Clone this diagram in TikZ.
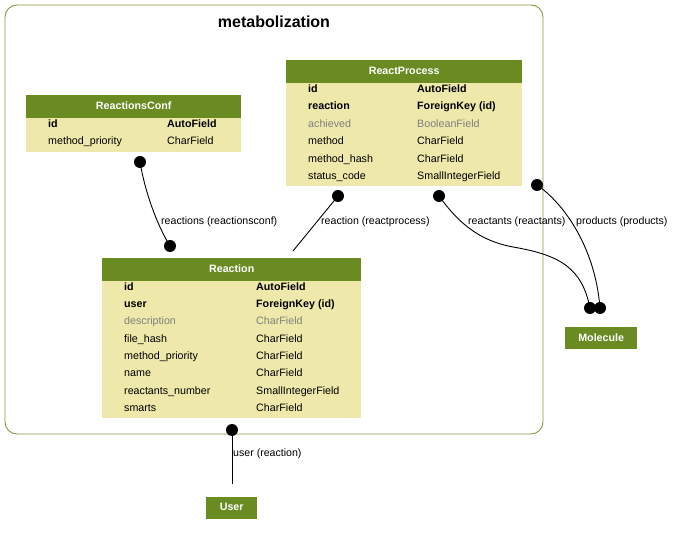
\documentclass[tikz,border=0pt]{standalone}
\usepackage{fontspec}
\setmainfont{Liberation Sans}
\definecolor{hdr}{HTML}{698B22}
\definecolor{bodyc}{HTML}{EEE8AA}
\definecolor{mute}{HTML}{7F7F7F}
\begin{document}
\begin{tikzpicture}[x=1pt,y=-1pt,
  font=\fontsize{10.7}{12}\selectfont,
  hdrbox/.style={fill=hdr, text=white, font=\fontsize{10.7}{12}\selectfont\bfseries, anchor=north west, inner sep=0pt, draw=none},
  bodybox/.style={fill=bodyc, anchor=north west, inner sep=0pt, draw=none},
  fld/.style={anchor=base west, inner sep=0pt},
  key/.style={fld, font=\fontsize{10.7}{12}\selectfont\bfseries},
  muted/.style={fld, text=mute},
  elabel/.style={anchor=base west, inner sep=0pt, font=\fontsize{10.6}{12}\selectfont},
  conn/.style={line width=0.9pt, black},
  dot/.style={fill=black}
]
\useasboundingbox (0,0) rectangle (673,537);
\fill[white] (0,0) rectangle (673,537);

% cluster
\draw[hdr!85, line width=0.9pt, rounded corners=12pt] (5,5) rectangle (543,434);
\node[font=\fontsize{16}{18}\selectfont\bfseries, inner sep=0pt] (title) at (274,22) {metabolization};

% ReactionsConf
\node[hdrbox, minimum width=215pt, minimum height=23pt] (rch) at (26,95) {\raisebox{2pt}{ReactionsConf}};
\node[bodybox, minimum width=215pt, minimum height=34pt] (rcb) at (26,118) {};
\node[key] (rc1a) at (48,128) {id};
\node[key] (rc1b) at (167,128) {AutoField};
\node[fld] (rc2a) at (48,145) {method\_priority};
\node[fld] (rc2b) at (167,145) {CharField};

% ReactProcess
\node[hdrbox, minimum width=236pt, minimum height=23pt] (rph) at (286,60) {\raisebox{2pt}{ReactProcess}};
\node[bodybox, minimum width=236pt, minimum height=103pt] (rpb) at (286,83) {};
\node[key] (rp1a) at (308,93) {id};
\node[key] (rp1b) at (417,93) {AutoField};
\node[key] (rp2a) at (308,110) {reaction};
\node[key] (rp2b) at (417,110) {ForeignKey (id)};
\node[muted] (rp3a) at (308,128) {achieved};
\node[muted] (rp3b) at (417,128) {BooleanField};
\node[fld] (rp4a) at (308,145) {method};
\node[fld] (rp4b) at (417,145) {CharField};
\node[fld] (rp5a) at (308,163) {method\_hash};
\node[fld] (rp5b) at (417,163) {CharField};
\node[fld] (rp6a) at (308,180) {status\_code};
\node[fld] (rp6b) at (417,180) {SmallIntegerField};

% Reaction
\node[hdrbox, minimum width=259pt, minimum height=23pt] (reh) at (102,258) {\raisebox{2pt}{Reaction}};
\node[bodybox, minimum width=259pt, minimum height=137pt] (reb) at (102,281) {};
\node[key] (re1a) at (124,291) {id};
\node[key] (re1b) at (256,291) {AutoField};
\node[key] (re2a) at (124,308) {user};
\node[key] (re2b) at (256,308) {ForeignKey (id)};
\node[muted] (re3a) at (124,325) {description};
\node[muted] (re3b) at (256,325) {CharField};
\node[fld] (re4a) at (124,343) {file\_hash};
\node[fld] (re4b) at (256,343) {CharField};
\node[fld] (re5a) at (124,360) {method\_priority};
\node[fld] (re5b) at (256,360) {CharField};
\node[fld] (re6a) at (124,377) {name};
\node[fld] (re6b) at (256,377) {CharField};
\node[fld] (re7a) at (124,395) {reactants\_number};
\node[fld] (re7b) at (256,395) {SmallIntegerField};
\node[fld] (re8a) at (124,412) {smarts};
\node[fld] (re8b) at (256,412) {CharField};

% Molecule, User
\node[hdrbox, minimum width=72pt, minimum height=22pt] (mol) at (565,327) {\raisebox{2pt}{Molecule}};
\node[hdrbox, minimum width=51pt, minimum height=22pt] (usr) at (206,497) {\raisebox{2pt}{User}};

% connector end points
\coordinate (c1s) at (140,162);
\coordinate (c1e) at (170,246);
\coordinate (c2s) at (338,196);
\coordinate (c2e) at (293,251);
\coordinate (c3s) at (439,196);
\coordinate (c3m) at (513,247);
\coordinate (c3e) at (590,308);
\coordinate (c4s) at (537,185);
\coordinate (c4e) at (600,308);
\coordinate (c5s) at (232,430);
\coordinate (c5e) at (232,484);

\draw[conn] (c1s) .. controls (145,192) and (157,225) .. (c1e);
\draw[conn] (c2s) -- (c2e);
\draw[conn] (c3s) .. controls (455,218) and (475,240) .. (c3m) .. controls (560,255) and (582,268) .. (c3e);
\draw[conn] (c4s) .. controls (562,202) and (595,245) .. (c4e);
\draw[conn] (c5s) -- (c5e);

\foreach \p in {c1s,c1e,c2s,c3s,c3e,c4s,c4e,c5s} \fill[dot] (\p) circle (6);

% labels
\node[elabel] (l1) at (161,225) {reactions (reactionsconf)};
\node[elabel] (l2) at (321,225) {reaction (reactprocess)};
\node[elabel] (l3) at (468,225) {reactants (reactants)};
\node[elabel] (l4) at (576,225) {products (products)};
\node[elabel] (l5) at (233,457) {user (reaction)};
\end{tikzpicture}
\end{document}
